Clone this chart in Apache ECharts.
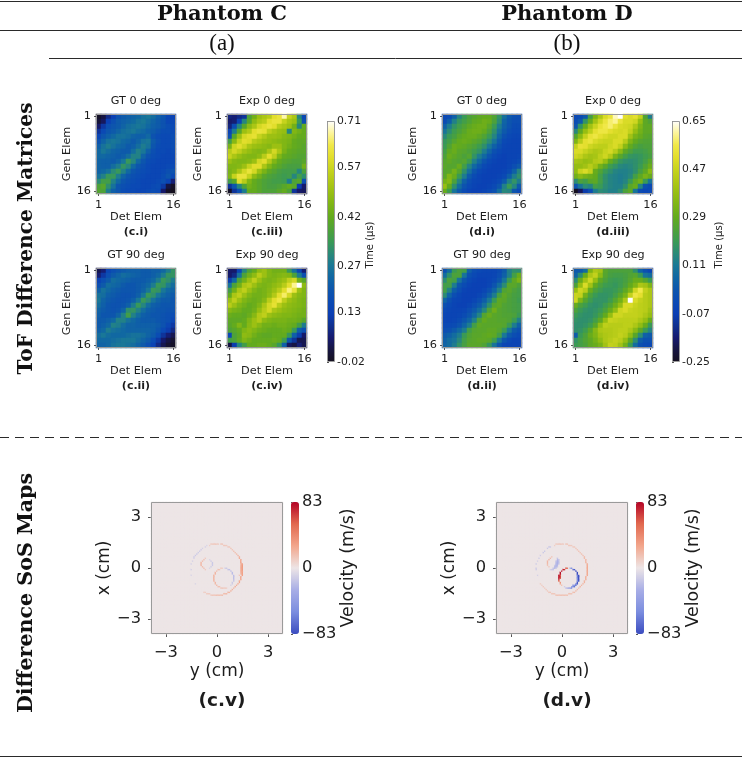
<!DOCTYPE html>
<html>
<head>
<meta charset="utf-8">
<title>ToF difference matrices and SoS maps</title>
<style>html,body{margin:0;padding:0;background:#fff}#chart{width:742px;height:758px}</style>
<script src="https://cdn.jsdelivr.net/npm/echarts@6/dist/echarts.min.js"></script>
</head>
<body>
<div id="chart"></div>
<script>
// ToF difference matrices, one row per generating element, in microseconds.
const cGt0 = [
[-.01,.02,.08,.13,.19,.21,.22,.23,.24,.26,.27,.25,.22,.20,.15,.14],
[.01,.04,.13,.18,.21,.22,.23,.24,.26,.27,.25,.23,.21,.19,.15,.15],
[.05,.11,.18,.20,.21,.23,.25,.26,.27,.26,.24,.22,.21,.19,.17,.16],
[.10,.16,.20,.21,.23,.25,.26,.27,.25,.24,.22,.21,.19,.17,.17,.16],
[.15,.20,.22,.24,.26,.26,.25,.23,.22,.22,.24,.19,.17,.16,.16,.17],
[.19,.23,.26,.27,.26,.24,.23,.21,.23,.26,.27,.21,.18,.16,.16,.17],
[.22,.26,.28,.26,.24,.23,.21,.22,.25,.28,.26,.20,.17,.16,.16,.17],
[.24,.27,.25,.23,.22,.21,.21,.25,.29,.27,.22,.18,.16,.16,.15,.16],
[.24,.24,.23,.22,.21,.22,.25,.29,.29,.23,.19,.17,.16,.15,.15,.15],
[.23,.22,.22,.21,.23,.27,.34,.30,.24,.20,.17,.16,.15,.15,.15,.15],
[.23,.22,.22,.25,.28,.33,.30,.24,.20,.18,.16,.15,.15,.15,.16,.16],
[.23,.24,.26,.31,.34,.29,.24,.20,.18,.17,.16,.15,.15,.16,.18,.19],
[.26,.29,.34,.34,.28,.23,.20,.18,.17,.16,.15,.15,.15,.17,.20,.16],
[.31,.36,.36,.29,.24,.20,.18,.17,.16,.15,.15,.15,.16,.18,.14,.06],
[.38,.40,.32,.26,.20,.18,.17,.16,.16,.15,.15,.16,.17,.11,.02,-.01],
[.39,.38,.28,.22,.20,.17,.16,.16,.15,.15,.16,.17,.16,.05,-.01,-.02]
];
const cExp0 = [
[.07,.06,.08,.10,.38,.44,.50,.52,.54,.60,.62,.68,.56,.52,.30,.16],
[.05,.06,.14,.30,.40,.48,.52,.54,.60,.62,.62,.56,.52,.50,.34,.18],
[.07,.17,.30,.40,.48,.52,.58,.60,.62,.60,.54,.52,.50,.44,.30,.42],
[.14,.28,.40,.50,.53,.60,.62,.61,.55,.52,.50,.49,.30,.46,.44,.42],
[.18,.40,.50,.58,.60,.61,.56,.53,.50,.50,.49,.47,.46,.44,.42,.42],
[.36,.47,.56,.60,.59,.54,.52,.50,.49,.48,.47,.46,.45,.42,.41,.41],
[.45,.57,.60,.57,.52,.50,.49,.48,.47,.50,.50,.46,.44,.42,.41,.40],
[.54,.58,.55,.51,.49,.47,.46,.47,.52,.58,.52,.45,.42,.41,.40,.40],
[.56,.52,.49,.47,.46,.46,.48,.54,.60,.55,.46,.42,.41,.40,.39,.39],
[.50,.47,.46,.46,.47,.50,.58,.60,.53,.46,.42,.40,.39,.38,.38,.40],
[.46,.46,.47,.50,.56,.60,.60,.52,.46,.42,.40,.38,.37,.37,.37,.44],
[.45,.47,.52,.58,.62,.58,.50,.45,.41,.39,.37,.36,.36,.36,.30,.38],
[.46,.56,.62,.62,.56,.48,.44,.40,.38,.37,.36,.35,.36,.30,.36,.32],
[.36,.40,.60,.54,.46,.42,.40,.38,.37,.36,.36,.35,.28,.38,.40,.18],
[.10,.20,.30,.38,.44,.42,.40,.38,.37,.37,.38,.40,.42,.40,.12,.05],
[-.01,.10,.18,.28,.42,.42,.40,.38,.38,.38,.40,.42,.38,.10,.05,.04]
];
const cGt90 = [
[.03,.06,.15,.18,.20,.21,.22,.22,.22,.21,.21,.22,.22,.24,.28,.33],
[.06,.11,.18,.21,.23,.25,.24,.23,.22,.21,.21,.22,.24,.28,.33,.33],
[.14,.18,.21,.25,.24,.23,.22,.21,.21,.21,.22,.24,.28,.34,.32,.28],
[.18,.21,.25,.24,.23,.21,.20,.20,.21,.22,.24,.28,.34,.33,.28,.25],
[.22,.26,.24,.22,.21,.20,.20,.20,.21,.23,.27,.34,.33,.27,.24,.23],
[.26,.25,.22,.21,.20,.19,.19,.20,.22,.27,.34,.32,.27,.24,.22,.21],
[.27,.23,.21,.20,.19,.19,.20,.22,.27,.34,.31,.26,.23,.21,.21,.20],
[.25,.22,.20,.19,.19,.20,.22,.28,.34,.30,.25,.22,.21,.20,.20,.20],
[.23,.21,.20,.19,.20,.23,.32,.33,.29,.25,.22,.21,.20,.20,.19,.19],
[.22,.20,.20,.20,.23,.29,.36,.29,.25,.22,.21,.20,.20,.19,.18,.17],
[.21,.21,.22,.24,.29,.29,.26,.24,.22,.21,.21,.21,.20,.19,.18,.15],
[.21,.22,.24,.29,.28,.25,.23,.23,.22,.22,.22,.22,.21,.19,.15,.11],
[.22,.24,.28,.26,.25,.24,.23,.23,.23,.23,.23,.22,.20,.16,.12,.08],
[.25,.27,.25,.24,.24,.24,.25,.26,.26,.25,.23,.21,.17,.10,.06,.03],
[.24,.24,.24,.25,.26,.27,.27,.27,.25,.23,.21,.17,.11,.05,.02,.00],
[.23,.23,.24,.26,.27,.27,.26,.25,.23,.21,.18,.14,.08,.03,.00,-.01]
];
const cExp90 = [
[.05,.05,.15,.30,.38,.42,.48,.50,.46,.44,.44,.44,.34,.26,.15,.06],
[.05,.08,.26,.38,.44,.48,.54,.50,.46,.45,.46,.47,.46,.38,.28,.18],
[.12,.24,.38,.44,.50,.55,.50,.46,.45,.46,.48,.50,.55,.58,.44,.40],
[.26,.38,.44,.52,.54,.50,.46,.45,.46,.48,.50,.54,.60,.67,.71,.48],
[.36,.44,.52,.55,.50,.46,.44,.45,.47,.50,.54,.60,.66,.62,.50,.46],
[.42,.52,.55,.50,.46,.44,.44,.45,.48,.53,.60,.65,.58,.50,.47,.46],
[.50,.55,.50,.46,.44,.43,.44,.47,.54,.60,.63,.55,.50,.48,.46,.45],
[.54,.50,.46,.44,.42,.43,.46,.52,.58,.61,.54,.50,.48,.47,.46,.45],
[.47,.45,.44,.42,.42,.44,.49,.54,.58,.52,.50,.48,.47,.46,.45,.44],
[.43,.42,.42,.41,.43,.47,.53,.55,.50,.48,.47,.46,.46,.45,.44,.44],
[.41,.41,.41,.42,.46,.50,.53,.48,.46,.45,.45,.45,.44,.44,.43,.40],
[.40,.42,.46,.42,.47,.50,.47,.44,.44,.43,.44,.44,.43,.42,.36,.28],
[.38,.40,.42,.46,.48,.46,.44,.43,.42,.42,.42,.43,.42,.34,.22,.18],
[.16,.38,.41,.48,.47,.44,.42,.41,.41,.42,.42,.42,.34,.22,.12,.05],
[.36,.38,.42,.46,.44,.42,.42,.42,.42,.43,.42,.35,.20,.10,.03,.03],
[.02,.12,.30,.36,.42,.42,.43,.43,.42,.40,.34,.22,.04,.02,.06,.03]
];
const dGt0 = [
[-.03,-.02,.05,.14,.20,.24,.26,.28,.29,.29,.25,.18,.09,.03,.00,-.01],
[-.02,.04,.13,.19,.22,.25,.28,.29,.31,.30,.24,.16,.06,.02,-.01,-.01],
[.05,.12,.18,.22,.25,.28,.30,.31,.31,.27,.20,.12,.05,.01,-.02,-.02],
[.10,.16,.21,.24,.27,.30,.31,.31,.29,.24,.17,.09,.03,-.01,-.03,-.03],
[.15,.20,.23,.27,.29,.30,.30,.28,.25,.20,.14,.06,.00,-.03,-.04,-.04],
[.19,.22,.26,.29,.30,.29,.27,.25,.21,.16,.10,.03,-.03,-.04,-.05,-.05],
[.20,.25,.30,.29,.28,.26,.24,.21,.17,.11,.05,.00,-.04,-.05,-.05,-.05],
[.22,.28,.30,.27,.26,.24,.21,.18,.12,.06,.00,-.03,-.05,-.05,-.05,-.05],
[.24,.30,.28,.26,.24,.26,.18,.12,.07,.01,-.03,-.05,-.06,-.05,-.05,-.04],
[.26,.28,.26,.25,.26,.21,.13,.07,.01,-.03,-.05,-.06,-.06,-.05,-.04,-.02],
[.27,.26,.26,.30,.22,.14,.07,.02,-.03,-.05,-.06,-.06,-.06,-.04,-.01,.03],
[.26,.27,.32,.26,.17,.09,.02,-.03,-.05,-.06,-.06,-.06,-.05,-.02,.05,.14],
[.27,.34,.30,.20,.12,.03,-.02,-.05,-.06,-.06,-.06,-.05,-.03,.04,.12,.17],
[.32,.35,.24,.14,.05,-.01,-.04,-.05,-.06,-.06,-.05,-.03,.03,.13,.18,.12],
[.38,.29,.17,.08,.01,-.03,-.05,-.06,-.06,-.05,-.03,.02,.13,.20,.14,.03],
[.30,.21,.10,.03,-.02,-.05,-.06,-.06,-.05,-.03,.00,.08,.15,.14,.02,-.03]
];
const dExp0 = [
[-.03,-.02,.03,.22,.34,.42,.50,.54,.62,.65,.52,.50,.52,.46,.25,.12],
[-.02,.03,.18,.30,.40,.48,.54,.58,.60,.54,.50,.50,.48,.38,.28,.25],
[.02,.18,.30,.40,.47,.53,.56,.58,.54,.50,.49,.48,.42,.34,.28,.28],
[.15,.28,.38,.45,.52,.55,.55,.52,.50,.49,.50,.46,.38,.32,.28,.28],
[.26,.36,.46,.53,.55,.52,.50,.48,.48,.50,.50,.40,.33,.30,.27,.26],
[.34,.44,.52,.54,.50,.48,.47,.47,.50,.50,.44,.34,.29,.26,.25,.25],
[.46,.53,.52,.48,.46,.45,.45,.48,.50,.46,.36,.29,.25,.23,.24,.24],
[.50,.50,.47,.44,.42,.43,.47,.49,.44,.36,.28,.24,.21,.21,.22,.24],
[.48,.46,.42,.40,.41,.45,.48,.43,.33,.27,.22,.19,.18,.19,.21,.23],
[.41,.40,.38,.39,.43,.44,.38,.29,.24,.19,.17,.16,.17,.19,.22,.27],
[.38,.38,.40,.44,.40,.32,.27,.21,.18,.15,.14,.15,.17,.20,.25,.30],
[.37,.47,.50,.46,.30,.25,.20,.17,.14,.13,.13,.14,.17,.23,.28,.36],
[.32,.36,.33,.31,.29,.22,.17,.14,.13,.12,.13,.15,.22,.28,.33,.30],
[.16,.24,.22,.27,.28,.22,.17,.14,.13,.12,.14,.20,.28,.32,.20,.10],
[.02,.10,.16,.14,.22,.20,.16,.14,.13,.13,.17,.27,.30,.14,.00,-.03],
[-.25,-.18,-.08,-.01,.12,.16,.15,.13,.13,.16,.24,.28,.10,-.02,-.04,-.03]
];
const dGt90 = [
[.00,.08,.20,.24,.22,.05,-.01,-.03,-.04,-.04,-.04,-.02,.03,.13,.17,.16],
[.08,.17,.24,.24,.10,.00,-.03,-.05,-.05,-.05,-.04,-.01,.05,.13,.22,.30],
[.16,.24,.22,.10,.02,-.03,-.05,-.06,-.06,-.05,-.03,.02,.10,.20,.28,.33],
[.22,.22,.12,.02,-.02,-.05,-.06,-.06,-.06,-.04,.01,.08,.16,.27,.27,.24],
[.22,.14,.04,-.01,-.05,-.06,-.06,-.06,-.04,.00,.06,.14,.25,.27,.24,.22],
[.16,.06,-.01,-.04,-.06,-.06,-.06,-.04,-.01,.05,.12,.23,.28,.25,.23,.22],
[.06,.00,-.04,-.05,-.06,-.06,-.04,-.01,.04,.11,.20,.28,.27,.24,.23,.21],
[.00,-.03,-.05,-.06,-.06,-.04,-.01,.03,.09,.17,.26,.28,.25,.24,.23,.22],
[-.03,-.04,-.05,-.05,-.04,-.01,.03,.08,.15,.25,.31,.26,.25,.24,.23,.22],
[-.04,-.05,-.05,-.04,-.02,.02,.07,.14,.26,.30,.27,.26,.25,.25,.24,.20],
[-.04,-.05,-.04,-.02,.02,.06,.13,.24,.29,.27,.27,.26,.26,.25,.20,.13],
[-.03,-.03,-.02,.01,.06,.12,.22,.28,.27,.27,.27,.27,.26,.20,.12,.05],
[-.01,.00,.03,.07,.12,.22,.26,.27,.27,.28,.28,.26,.20,.11,.03,.00],
[.03,.05,.08,.12,.20,.25,.27,.27,.28,.29,.28,.22,.11,.03,-.01,-.03],
[.05,.08,.10,.15,.22,.26,.27,.28,.28,.27,.21,.11,.02,-.03,-.05,-.05],
[.06,.08,.12,.18,.23,.27,.27,.27,.25,.19,.10,.02,-.04,-.05,-.05,-.05]
];
const dExp90 = [
[.03,.03,.08,.34,.42,.40,.27,.24,.24,.24,.24,.24,.17,.06,.00,-.04],
[.06,.16,.30,.42,.46,.36,.26,.23,.22,.22,.23,.25,.26,.20,.10,.08],
[.16,.30,.40,.48,.38,.28,.24,.21,.20,.21,.23,.26,.30,.30,.26,.20],
[.24,.38,.50,.40,.29,.24,.21,.20,.19,.21,.24,.29,.34,.42,.40,.34],
[.38,.48,.44,.30,.24,.21,.19,.19,.20,.23,.28,.34,.48,.56,.46,.42],
[.47,.46,.32,.24,.20,.18,.18,.19,.22,.27,.33,.46,.55,.52,.44,.42],
[.48,.34,.26,.21,.18,.18,.18,.21,.26,.32,.42,.65,.50,.46,.44,.42],
[.30,.24,.21,.18,.17,.18,.21,.25,.31,.38,.50,.50,.47,.45,.44,.42],
[.24,.20,.18,.17,.18,.20,.24,.30,.37,.48,.50,.47,.46,.45,.44,.40],
[.20,.18,.17,.17,.19,.23,.29,.38,.48,.48,.46,.46,.46,.45,.42,.38],
[.18,.17,.17,.18,.22,.28,.38,.47,.46,.45,.45,.45,.45,.42,.38,.30],
[.17,.17,.18,.21,.27,.38,.45,.44,.44,.44,.45,.45,.42,.37,.30,.20],
[.17,.18,.21,.27,.35,.42,.43,.43,.44,.45,.45,.42,.36,.28,.20,.14],
[.04,.20,.24,.30,.34,.40,.42,.43,.44,.46,.44,.37,.27,.16,.05,.03],
[.18,.22,.25,.28,.32,.37,.42,.44,.46,.44,.38,.28,.16,.04,.00,.00],
[.20,.22,.24,.28,.30,.33,.40,.46,.45,.40,.32,.20,.08,.00,-.02,-.03]
];

// Colour-bar tick values of the two time scales (µs).
const cTimeTicks = [-0.02, 0.13, 0.27, 0.42, 0.57, 0.71];
const dTimeTicks = [-0.25, -0.07, 0.11, 0.29, 0.47, 0.65];

// Non-zero cells of the difference SoS maps: [column, row, m/s], counted from
// the map centre in cells of 1/12 cm; everything else is 0 m/s.
const cSosCells = [
[18,-1,32],[18,0,32],[18,1,32],[18,2,32],[18,3,30],[17,4,30],[17,5,28],[17,6,26],[16,7,24],[16,8,22],[15,9,20],[14,10,18],[13,11,16],[12,12,15],[11,13,14],[10,14,14],[9,15,13],[8,15,13],[7,16,12],[6,16,12],[5,16,14],[4,17,14],[3,17,14],[1,17,13],[0,17,13],[-1,17,14],[-2,17,14],[-3,17,12],[-4,17,12],[-5,16,10],
[17,3,18],[17,2,20],[17,1,22],[17,0,22],[17,-1,22],[17,-2,22],[17,-3,20],[17,-4,18],[16,-5,14],
[-7,16,-8],[-8,15,-10],[-10,14,-10],[-11,13,-12],[-12,12,-12],[-13,11,-12],[-14,10,-14],[-15,9,-14],[-16,8,-12],[-16,7,-10],[-17,5,-10],[-18,3,-10],[-18,-1,-10],[-18,-5,-8],[-15,-11,-8],
[-9,-17,10],[-8,-17,10],[-7,-18,12],[-6,-18,12],[-5,-18,12],[-4,-19,12],[-3,-19,14],[-2,-19,14],[-1,-19,14],[0,-19,16],[1,-19,16],[2,-19,16],[3,-19,16],[4,-19,18],[5,-18,18],[6,-18,18],[7,-18,20],[8,-17,20],[9,-17,20],[10,-16,22],[11,-15,22],[12,-14,22],[13,-13,24],[14,-12,24],[15,-11,24],[16,-10,26],[16,-9,26],[17,-8,28],[17,-7,28],[17,-6,28],[18,-5,30],[18,-4,30],[18,-3,30],[18,-2,30],
[-3,3,-14],[-3,4,-14],[-4,5,-12],[-5,6,-8],[-3,2,-14],[-4,1,-12],[-5,0,-8],
[-11,3,20],[-11,4,20],[-10,5,18],[-9,6,16],[-8,7,12],[-11,2,20],[-10,1,18],[-9,0,16],[-8,-1,12],
[6,0,-12],[7,0,-14],[8,-1,-16],[9,-1,-18],[10,-2,-18],[11,-3,-20],[11,-4,-20],[12,-5,-20],[12,-6,-20],[12,-7,-20],[12,-8,-18],[12,-9,-16],[11,-10,-14],[11,-11,-12],[10,-12,-10],
[4,0,10],[3,0,12],[2,-1,14],[1,-1,16],[0,-2,18],[-1,-3,20],[-1,-4,22],[-2,-5,22],[-2,-6,22],[-2,-7,22],[-2,-8,22],[-2,-9,20],[-1,-10,20],[-1,-11,18],[0,-12,18],[1,-13,16],[2,-13,16],[3,-14,14],[4,-14,14],[5,-14,12],[6,-14,12],[7,-14,10]
];
const dSosCells = [
[18,-1,26],[18,0,26],[18,1,26],[18,2,24],[18,3,24],[17,4,22],[17,5,20],[17,6,20],[16,7,18],[16,8,18],[15,9,16],[14,10,16],[13,11,14],[12,12,14],[11,13,14],[10,14,13],[9,15,13],[8,15,12],[7,16,12],[6,16,12],[5,16,14],[4,17,14],[3,17,14],[1,17,13],[0,17,13],[-1,17,14],[-2,17,14],[-3,17,12],[-4,17,12],[-5,16,10],
[-8,15,-14],[-9,15,-14],[-10,14,-14],[-12,12,-14],[-13,11,-14],[-15,9,-12],[-16,7,-12],[-17,5,-10],[-18,3,-12],[-18,0,-12],[-18,-1,-12],[-17,-5,-10],
[-15,-11,10],[-14,-12,10],[-13,-13,12],[-12,-14,12],[-11,-15,12],[-10,-16,12],[-9,-17,14],[-8,-17,14],[-7,-18,14],[-6,-18,14],[-5,-18,14],[-4,-19,16],[-3,-19,16],[-2,-19,16],[-1,-19,16],[0,-19,16],[1,-19,16],[2,-19,16],[3,-19,16],[4,-19,16],[5,-18,16],[6,-18,16],[7,-18,16],[8,-17,16],[9,-17,18],[10,-16,18],[11,-15,18],[12,-14,18],[13,-13,20],[14,-12,20],[15,-11,20],[16,-10,22],[16,-9,22],[17,-8,24],[17,-7,24],[17,-6,24],[18,-5,26],[18,-4,26],[18,-3,26],[18,-2,26],
[-2,3,-16],[-2,4,-20],[-2,5,-20],[-2,6,-16],[-3,1,-16],[-3,2,-22],[-3,3,-26],[-3,4,-26],[-3,5,-26],[-3,6,-22],[-3,7,-16],[-4,0,-16],[-4,1,-24],[-4,2,-24],[-4,3,-22],[-4,4,-20],[-4,5,-16],[-5,0,-22],[-5,1,-20],[-5,2,-14],[-6,-1,-16],[-6,0,-16],[-7,-1,-14],[-8,-1,-10],
[-10,2,14],[-10,3,18],[-10,4,20],[-10,5,20],[-9,6,20],[-8,7,18],[-7,8,14],[-9,1,12],
[4,0,50],[3,0,60],[2,-1,70],[1,-1,75],[0,-2,78],[-1,-3,80],[-1,-4,80],[-2,-5,80],[-2,-6,80],[-2,-7,78],[-2,-8,70],[-2,-9,55],[-1,-10,35],[-1,-11,25],[0,-12,15],
[-1,-5,60],[-1,-6,65],[-1,-7,60],
[6,0,-30],[7,0,-50],[8,-1,-65],[9,-1,-75],[10,-2,-80],[11,-3,-82],[11,-4,-83],[12,-5,-83],[12,-6,-83],[12,-7,-83],[12,-8,-83],[12,-9,-80],[11,-10,-78],[11,-11,-75],[10,-12,-70],[9,-13,-65],[8,-13,-55],[7,-14,-50],[6,-14,-40],[5,-14,-35],[4,-14,-25],[3,-14,-18],[2,-13,-12],
[11,-5,-60],[11,-6,-60],[11,-7,-55],[11,-8,-55],[11,-9,-50],[10,-11,-50],[9,-12,-50],[8,-12,-40],[7,-13,-35]
];
const sosTicks = [-3, 0, 3];
const sosBarTicks = [-83, 0, 83];

// Layout of the figure.
const textFont = 'DejaVu Sans';
const serifFont = 'DejaVu Serif';
const textColor = '#1c1c1c';
const frameColor = '#9a9a9a';
const timeColors = ['#15101f','#161540','#161a6e','#10308f','#0b3fb4','#0b4ab4','#0d55ad','#1066a4','#1a7896','#2a8a78','#3a9a55',
  '#4ea238','#62aa1e','#7cb416','#96be12','#b0c816','#c8d41e','#e2de2c','#f0e848','#fdf59a','#ffffff'];
const sosColors = ['#3b4cc0','#7b8ddf','#a8aee6','#ede5e6','#f2a68c','#e2694f','#b40426'];
const PANEL = 80;
const SOS = 132;
const SOS_HALF = 46;          // cells either side of the map centre
const CELLS_PER_CM = 12;

const matrixPanels = [
  {left: 96,  top: 114, title: 'GT 0 deg',   tag: '(c.i)',   data: cGt0,   group: 0},
  {left: 227, top: 114, title: 'Exp 0 deg',  tag: '(c.iii)', data: cExp0,  group: 0},
  {left: 96,  top: 268, title: 'GT 90 deg',  tag: '(c.ii)',  data: cGt90,  group: 0},
  {left: 227, top: 268, title: 'Exp 90 deg', tag: '(c.iv)',  data: cExp90, group: 0},
  {left: 442, top: 114, title: 'GT 0 deg',   tag: '(d.i)',   data: dGt0,   group: 1},
  {left: 573, top: 114, title: 'Exp 0 deg',  tag: '(d.iii)', data: dExp0,  group: 1},
  {left: 442, top: 268, title: 'GT 90 deg',  tag: '(d.ii)',  data: dGt90,  group: 1},
  {left: 573, top: 268, title: 'Exp 90 deg', tag: '(d.iv)',  data: dExp90, group: 1}
];
const timeBars = [
  {left: 327, ticks: cTimeTicks, nameX: 370},
  {left: 672, ticks: dTimeTicks, nameX: 719}
];
const sosPanels = [
  {left: 151, barLeft: 291, cells: cSosCells, tag: '(c.v)', tagX: 222},
  {left: 496, barLeft: 636, cells: dSosCells, tag: '(d.v)', tagX: 567}
];

const elemCategories = Array.from({length: 16}, (_, i) => String(i + 1));
const showEnds = idx => idx === 0 || idx === 15;
const sosCategories = Array.from({length: 2 * SOS_HALF + 1}, (_, i) => String((i - SOS_HALF) / CELLS_PER_CM));
const sosTickIndex = sosTicks.map(v => v * CELLS_PER_CM + SOS_HALF);
const showSos = idx => sosTickIndex.includes(idx);
const signed = v => String(v).replace('-', '\u2212');

const grid = [], xAxis = [], yAxis = [], series = [], visualMap = [], graphic = [];

function addText(x, y, text, size, extra) {
  graphic.push(Object.assign({
    type: 'text', x, y, silent: true, z: 50,
    style: Object.assign({text, fontFamily: textFont, fontSize: size, fill: textColor, align: 'center', verticalAlign: 'middle'}, extra && extra.style)
  }, extra && extra.el));
}
function addFrame(x, y, w, h) {
  graphic.push({type: 'rect', silent: true, z: 40, shape: {x: x + 0.5, y: y + 0.5, width: w - 1, height: h - 1},
    style: {fill: null, stroke: frameColor, lineWidth: 1}});
}
function addRule(x1, y, x2, dash, color) {
  graphic.push({type: 'line', silent: true, z: 40, shape: {x1, y1: y + 0.5, x2, y2: y + 0.5},
    style: {stroke: color || '#2a2a2a', lineWidth: 1, lineDash: dash || null}});
}

// ToF matrices
const groupSeries = [[], []];
matrixPanels.forEach(p => {
  const idx = grid.length;
  grid.push({left: p.left, top: p.top, width: PANEL, height: PANEL});
  xAxis.push({
    type: 'category', gridIndex: idx, data: elemCategories,
    name: 'Det Elem', nameLocation: 'middle', nameGap: 15,
    nameTextStyle: {fontFamily: textFont, fontSize: 11.3, color: textColor},
    axisLine: {show: false},
    axisTick: {show: true, alignWithLabel: true, interval: showEnds, length: 2, lineStyle: {color: '#555'}},
    axisLabel: {interval: showEnds, margin: 6, fontFamily: textFont, fontSize: 11.3, color: textColor},
    splitLine: {show: false}
  });
  yAxis.push({
    type: 'category', gridIndex: idx, data: elemCategories, inverse: true,
    name: 'Gen Elem', nameLocation: 'middle', nameGap: 17,
    nameTextStyle: {fontFamily: textFont, fontSize: 11.3, color: textColor},
    axisLine: {show: false},
    axisTick: {show: true, alignWithLabel: true, interval: showEnds, length: 2, lineStyle: {color: '#555'}},
    axisLabel: {interval: showEnds, margin: 5, fontFamily: textFont, fontSize: 11.3, color: textColor},
    splitLine: {show: false}
  });
  const cells = [];
  p.data.forEach((row, r) => row.forEach((v, c) => cells.push([c, r, v])));
  groupSeries[p.group].push(series.length);
  series.push({type: 'heatmap', xAxisIndex: idx, yAxisIndex: idx, data: cells, silent: true,
    progressive: 0, emphasis: {disabled: true}});
  addFrame(p.left, p.top, PANEL, PANEL);
  addText(p.left + PANEL / 2, p.top - 13, p.title, 11.2);
  addText(p.left + PANEL / 2, p.top + PANEL + 38, p.tag, 11, {style: {fontWeight: 'bold'}});
});

// Time colour bars
timeBars.forEach((b, i) => {
  const idx = grid.length;
  const min = b.ticks[0], max = b.ticks[b.ticks.length - 1];
  grid.push({left: b.left, top: 121, width: 8, height: 241});
  xAxis.push({type: 'value', gridIndex: idx, show: false, min: 0, max: 1});
  yAxis.push({
    type: 'value', gridIndex: idx, position: 'right', min, max,
    axisLine: {show: false}, splitLine: {show: false},
    axisTick: {show: true, length: 2, customValues: b.ticks, lineStyle: {color: '#555'}},
    axisLabel: {show: true, customValues: b.ticks, margin: 2, fontFamily: textFont, fontSize: 10.8, color: textColor,
      formatter: v => Number(v).toFixed(2)}
  });
  visualMap.push({type: 'continuous', seriesIndex: groupSeries[i], min, max, calculable: false, hoverLink: false,
    left: b.left, top: 121, itemWidth: 8, itemHeight: 241, padding: 0, inRange: {color: timeColors}, text: null});
  addFrame(b.left, 121, 8, 241);
  addText(b.nameX, 245, 'Time (\u03bcs)', 10, {el: {rotation: Math.PI / 2}});
});

// Difference SoS maps
sosPanels.forEach(p => {
  const idx = grid.length;
  grid.push({left: p.left, top: 502, width: SOS, height: SOS, show: true, borderWidth: 0, backgroundColor: sosColors[3]});
  xAxis.push({
    type: 'category', gridIndex: idx, data: sosCategories,
    name: 'y (cm)', nameLocation: 'middle', nameGap: 29,
    nameTextStyle: {fontFamily: textFont, fontSize: 17, color: textColor},
    axisLine: {show: false},
    axisTick: {show: true, alignWithLabel: true, interval: showSos, length: 3, lineStyle: {color: '#555'}},
    axisLabel: {interval: showSos, margin: 11, fontFamily: textFont, fontSize: 16.3, color: textColor, formatter: signed},
    splitLine: {show: false}
  });
  yAxis.push({
    type: 'category', gridIndex: idx, data: sosCategories,
    name: 'x (cm)', nameLocation: 'middle', nameGap: 20,
    nameTextStyle: {fontFamily: textFont, fontSize: 17, color: textColor},
    axisLine: {show: false},
    axisTick: {show: true, alignWithLabel: true, interval: showSos, length: 3, lineStyle: {color: '#555'}},
    axisLabel: {interval: showSos, margin: 10, fontFamily: textFont, fontSize: 16.3, color: textColor, formatter: signed},
    splitLine: {show: false}
  });
  const sparse = new Map(p.cells.map(([c, r, v]) => [(c + SOS_HALF) + ':' + (r + SOS_HALF), v]));
  const cells = [];
  sosCategories.forEach((_, c) => sosCategories.forEach((_, r) => {
    const v = sparse.get(c + ':' + r) || 0;
    cells.push([c, r, v]);
  }));
  const seriesIdx = series.length;
  series.push({type: 'heatmap', xAxisIndex: idx, yAxisIndex: idx, data: cells, silent: true,
    progressive: 0, emphasis: {disabled: true}});
  addFrame(p.left, 502, SOS, SOS);
  addText(p.tagX, 701, p.tag, 18.5, {style: {fontWeight: 'bold'}});

  const barIdx = grid.length;
  grid.push({left: p.barLeft, top: 502, width: 8, height: SOS});
  xAxis.push({type: 'value', gridIndex: barIdx, show: false, min: 0, max: 1});
  yAxis.push({
    type: 'value', gridIndex: barIdx, position: 'right', min: -83, max: 83,
    name: 'Velocity (m/s)', nameLocation: 'middle', nameGap: 30,
    nameTextStyle: {fontFamily: textFont, fontSize: 17.4, color: textColor},
    axisLine: {show: false}, splitLine: {show: false},
    axisTick: {show: true, length: 2, customValues: sosBarTicks, lineStyle: {color: '#555'}},
    axisLabel: {show: true, customValues: sosBarTicks, margin: 3, fontFamily: textFont, fontSize: 16.3, color: textColor, formatter: signed}
  });
  visualMap.push({type: 'continuous', seriesIndex: [seriesIdx], min: -83, max: 83, calculable: false, hoverLink: false,
    left: p.barLeft, top: 502, itemWidth: 8, itemHeight: SOS, padding: 0, inRange: {color: sosColors}, text: null});
});

// Table rules and headings
addRule(0, 1, 742);
addRule(0, 30, 742);
addRule(49, 58, 742);
addRule(0, 437, 742, [9, 6]);
addRule(0, 756, 742);
const headingStyle = {fontFamily: serifFont, fontWeight: 'bold', fill: '#111'};
addText(222, 14.5, 'Phantom C', 21, {style: headingStyle});
addText(567, 14.5, 'Phantom D', 21, {style: headingStyle});
addText(222, 44, '(a)', 23, {style: {fontFamily: 'Liberation Serif', fill: '#111'}});
addText(567, 44, '(b)', 23, {style: {fontFamily: 'Liberation Serif', fill: '#111'}});
addText(27, 238.5, 'ToF Difference Matrices', 20.2, {style: headingStyle, el: {rotation: Math.PI / 2}});
addText(27, 593, 'Difference SoS Maps', 20.6, {style: headingStyle, el: {rotation: Math.PI / 2}});

const chart = echarts.init(document.getElementById('chart'), null, {renderer: 'canvas'});
chart.setOption({animation: false, backgroundColor: '#fff', grid, xAxis, yAxis, series, visualMap, graphic});
</script>
</body>
</html>
